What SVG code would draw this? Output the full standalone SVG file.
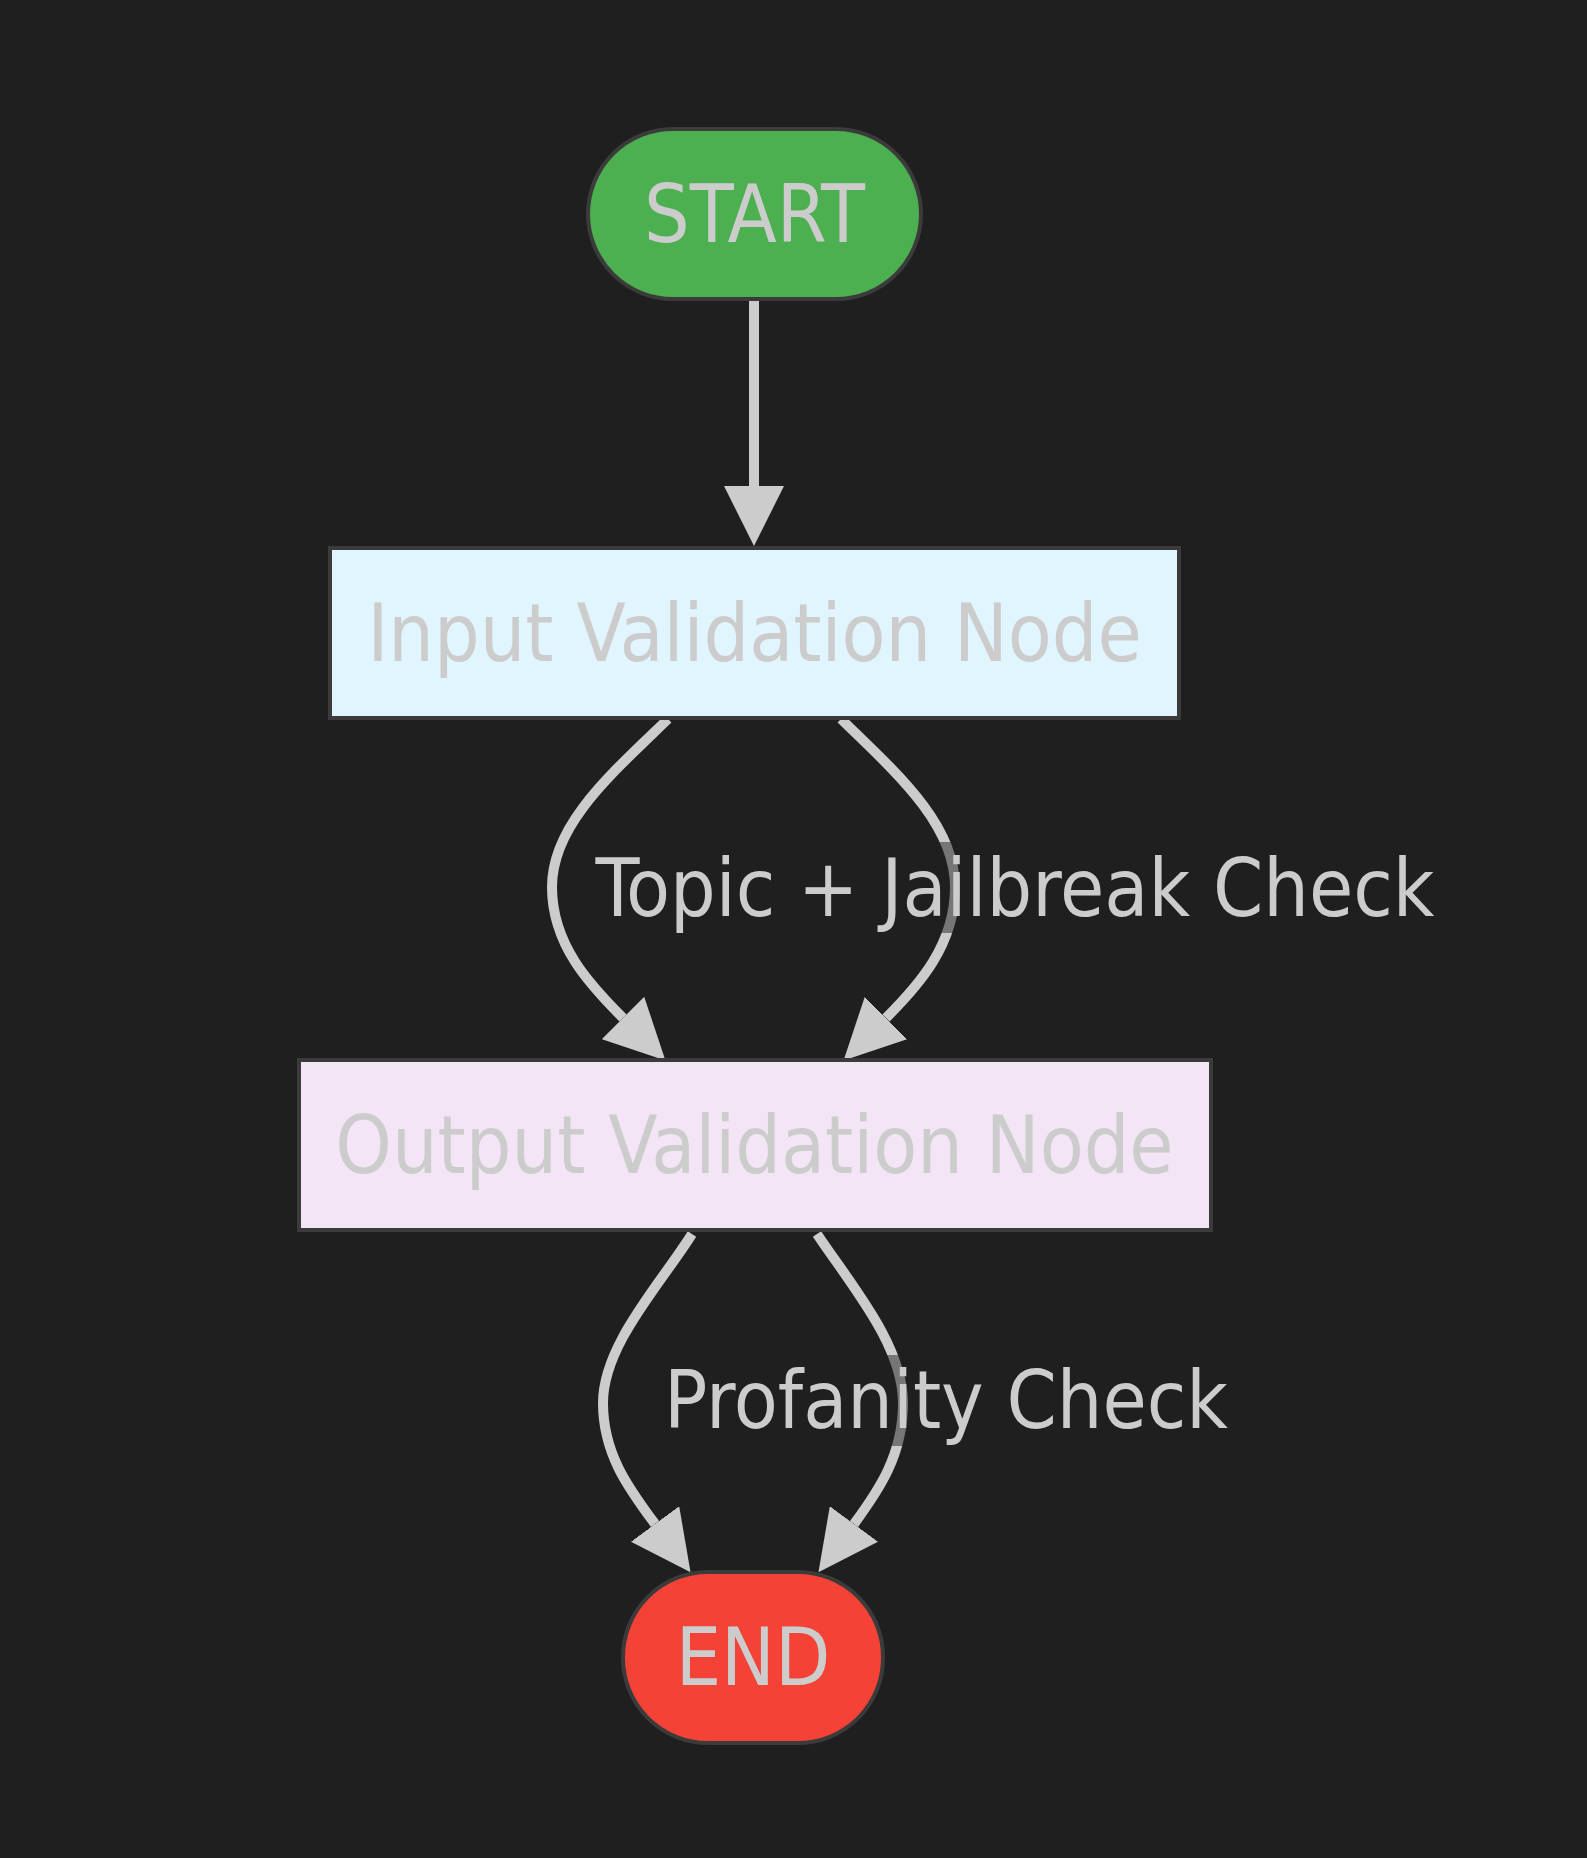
<svg xmlns="http://www.w3.org/2000/svg" width="1587" height="1858" viewBox="0 0 1587 1858">
<style>
.node rect{stroke:#3b3b3b;stroke-width:4}
.lbl{font-family:'DejaVu Sans Condensed','DejaVu Sans',sans-serif;font-stretch:condensed;font-size:80px;fill:#cccccc;text-anchor:middle}
.edge{fill:none;stroke:#cccccc;stroke-width:10}
.elbg{fill:#1f1f1f;fill-opacity:0.5}
</style>
<defs>
<marker id="arrow" viewBox="0 0 12 12" refX="0" refY="6" markerUnits="userSpaceOnUse" markerWidth="60" markerHeight="60" orient="auto" preserveAspectRatio="none">
<path d="M0,0 L12,6 L0,12 z" fill="#cccccc"/>
</marker>
</defs>
<rect x="0" y="0" width="1587" height="1858" fill="#1f1f1f"/>
<g id="connectors">
<path class="edge" d="M754,299 L754,486" marker-end="url(#arrow)"/>
<path class="edge" d="M668,719 C610,775 552,825 552,887 C552,945 590,985 623,1018" marker-end="url(#arrow)"/>
<path class="edge" d="M841,719 C899,775 955,825 955,887 C955,945 919,985 886,1018" marker-end="url(#arrow)"/>
<path class="edge" d="M692,1234 C660,1285 603,1345 603,1403 C603,1455 630,1490 655,1524" marker-end="url(#arrow)"/>
<path class="edge" d="M817,1234 C851,1285 903,1345 903,1403 C903,1455 879,1490 854,1524" marker-end="url(#arrow)"/>
</g>
<g id="edge-labels">
<g id="label-topic">
<rect class="elbg" x="588" y="842" width="854" height="91"/>
<text class="lbl" x="1015" y="916">Topic + Jailbreak Check</text>
</g>
<g id="label-profanity">
<rect class="elbg" x="661" y="1355" width="570" height="91"/>
<text class="lbl" x="946" y="1428">Profanity Check</text>
</g>
</g>
<g id="start" class="node">
<rect x="588" y="129" width="333" height="170" rx="85" ry="85" fill="#4caf50"/>
<text class="lbl" x="754.5" y="242">START</text>
</g>
<g id="input-validation" class="node">
<rect x="330" y="548" width="849" height="170" fill="#e1f5fe"/>
<text class="lbl" x="754.5" y="661">Input Validation Node</text>
</g>
<g id="output-validation" class="node">
<rect x="299" y="1060" width="912" height="170" fill="#f3e5f5"/>
<text class="lbl" x="754.5" y="1173">Output Validation Node</text>
</g>
<g id="end" class="node">
<rect x="623" y="1572" width="260" height="171" rx="85" ry="85" fill="#f44336"/>
<text class="lbl" x="753" y="1685">END</text>
</g>
</svg>
